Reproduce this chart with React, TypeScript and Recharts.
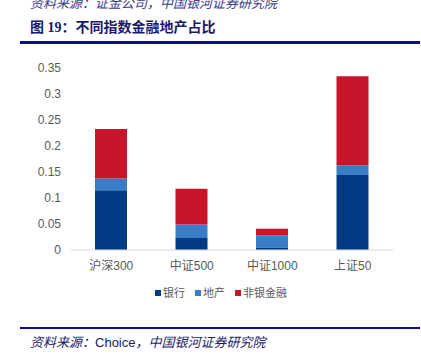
import { Bar, BarChart, XAxis, YAxis } from 'recharts';

const categories = ['沪深300', '中证500', '中证1000', '上证50'];
const bank = [0.115, 0.023, 0.005, 0.144];
const property = [0.0225, 0.026, 0.0235, 0.019];
const nonBank = [0.095, 0.069, 0.0125, 0.171];
const yTicks = [0, 0.05, 0.1, 0.15, 0.2, 0.25, 0.3, 0.35];

const data = categories.map((name, i) => ({
  name,
  bank: bank[i],
  property: property[i],
  nonBank: nonBank[i],
}));

const legendItems = [
  { label: '银行', color: '#003b84' },
  { label: '地产', color: '#3a7cc5' },
  { label: '非银金融', color: '#c8152a' },
];

const font = '"Liberation Sans", "Noto Sans CJK SC", sans-serif';

export default function App() {
  return (
    <div
      style={{
        position: 'absolute',
        left: 0,
        top: 0,
        width: 421,
        height: 356,
        overflow: 'hidden',
        background: '#fff',
        fontFamily: font,
      }}
    >
      {/* source line of the previous figure, cut off by the page edge */}
      <div
        style={{
          position: 'absolute',
          left: 30,
          top: -4,
          fontSize: 13,
          lineHeight: '16px',
          fontStyle: 'italic',
          color: '#3c3c8c',
          whiteSpace: 'nowrap',
        }}
      >
        资料来源：证金公司，中国银河证券研究院
      </div>
      <div
        style={{
          position: 'absolute',
          left: 30,
          top: 19,
          fontSize: 14,
          lineHeight: '18px',
          fontWeight: 'bold',
          color: '#1a1a6a',
          fontFamily: '"Liberation Serif", "Noto Sans CJK SC", serif',
          whiteSpace: 'nowrap',
        }}
      >
        图 19：不同指数金融地产占比
      </div>
      <div style={{ position: 'absolute', left: 20, top: 41, width: 400, height: 3, background: '#0d0d8c' }} />

      <div style={{ position: 'absolute', left: 0, top: 0 }}>
        <BarChart
          width={421}
          height={356}
          data={data}
          margin={{ top: 68, right: 28, bottom: 76, left: 0 }}
        >
          <XAxis
            dataKey="name"
            height={30}
            tickLine={false}
            axisLine={{ stroke: '#d9d9d9' }}
            tickMargin={5}
            tick={{ fill: '#595959', fontSize: 12, fontFamily: font }}
          />
          <YAxis
            width={71}
            domain={[0, 0.35]}
            ticks={yTicks}
            tickLine={false}
            axisLine={false}
            tickMargin={4}
            tickFormatter={(v: number) => String(v)}
            tick={{ fill: '#595959', fontSize: 12, fontFamily: font }}
          />
          <Bar dataKey="bank" stackId="a" fill="#003b84" barSize={32} isAnimationActive={false} />
          <Bar dataKey="property" stackId="a" fill="#3a7cc5" barSize={32} isAnimationActive={false} />
          <Bar dataKey="nonBank" stackId="a" fill="#c8152a" barSize={32} isAnimationActive={false} />
        </BarChart>
      </div>

      <div
        style={{
          position: 'absolute',
          left: 155,
          top: 286,
          display: 'flex',
          alignItems: 'center',
          fontSize: 11,
          lineHeight: '14px',
          color: '#595959',
          whiteSpace: 'nowrap',
        }}
      >
        {legendItems.map((item) => (
          <div key={item.label} style={{ display: 'flex', alignItems: 'center', marginRight: 10 }}>
            <span style={{ width: 6, height: 6, background: item.color, marginRight: 2, display: 'inline-block' }} />
            <span>{item.label}</span>
          </div>
        ))}
      </div>

      <div style={{ position: 'absolute', left: 20, top: 327, width: 400, height: 2, background: '#0d0d8c' }} />
      <div
        style={{
          position: 'absolute',
          left: 30,
          top: 335,
          fontSize: 13,
          lineHeight: '16px',
          fontStyle: 'italic',
          color: '#1a1a6a',
          whiteSpace: 'nowrap',
        }}
      >
        资料来源：<span style={{ fontStyle: 'normal' }}>Choice</span>，中国银河证券研究院
      </div>
    </div>
  );
}
